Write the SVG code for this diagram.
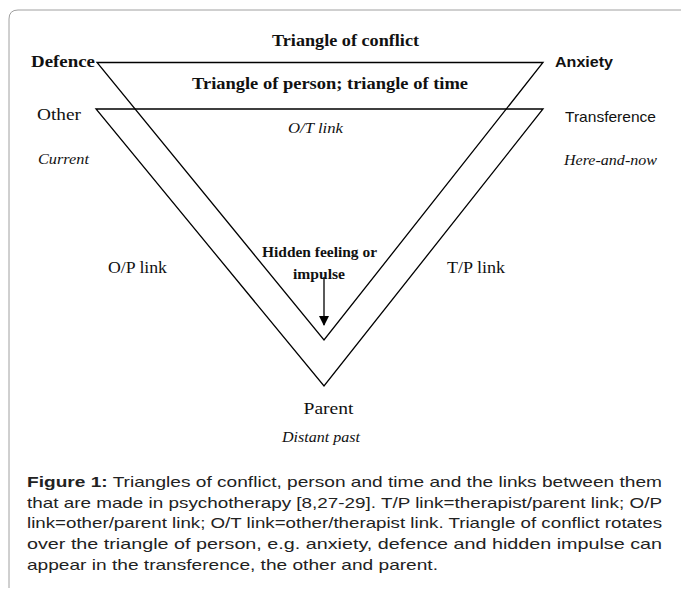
<svg xmlns="http://www.w3.org/2000/svg" width="681" height="590" viewBox="0 0 681 590">
<style>
.serif{font-family:"Liberation Serif","Times New Roman",serif;fill:#111}
.sans{font-family:"Liberation Sans",Arial,sans-serif;fill:#111}
.b{font-weight:bold}
.i{font-style:italic}
.ln{stroke:#000;stroke-width:1.3;fill:none}
.cap{font-family:"Liberation Sans",Arial,sans-serif;font-size:15px;fill:#222}
</style>
<defs>
<marker id="ah" markerWidth="10" markerHeight="10" refX="9" refY="5" orient="auto" markerUnits="userSpaceOnUse">
<path d="M0,0 L10,5 L0,10 Z" fill="#000"/>
</marker>
</defs>
<rect width="681" height="590" fill="#fff"/>
<path d="M9 588 L9 19 Q9 10 18 10 L681 10" fill="none" stroke="#a0a0a0" stroke-width="1"/>
<g id="connectors">
<polygon id="conflict-triangle" class="ln" points="97,62.5 543,62.5 324,340"/>
<polygon id="person-triangle" class="ln" points="96,109 543,109 324,386"/>
<line class="ln" x1="324" y1="277" x2="324" y2="325" marker-end="url(#ah)"/>
</g>
<g id="title-conflict"><text class="serif b" x="272" y="46" font-size="17" textLength="147" lengthAdjust="spacingAndGlyphs">Triangle of conflict</text></g>
<g id="title-person"><text class="serif b" x="192" y="89" font-size="17" textLength="276" lengthAdjust="spacingAndGlyphs">Triangle of person; triangle of time</text></g>
<g id="defence"><text class="serif b" x="31" y="67" font-size="16" textLength="64" lengthAdjust="spacingAndGlyphs">Defence</text></g>
<g id="anxiety"><text class="sans b" x="555" y="67" font-size="15" textLength="58" lengthAdjust="spacingAndGlyphs">Anxiety</text></g>
<g id="other"><text class="serif" x="37" y="120" font-size="17" textLength="44" lengthAdjust="spacingAndGlyphs">Other</text></g>
<g id="transference"><text class="sans" x="565" y="121.5" font-size="15" textLength="91" lengthAdjust="spacingAndGlyphs">Transference</text></g>
<g id="ot-link"><text class="serif i" x="288" y="133" font-size="15" textLength="55" lengthAdjust="spacingAndGlyphs">O/T link</text></g>
<g id="current"><text class="serif i" x="38" y="164" font-size="15" textLength="51" lengthAdjust="spacingAndGlyphs">Current</text></g>
<g id="here-and-now"><text class="serif i" x="564" y="165" font-size="15" textLength="93" lengthAdjust="spacingAndGlyphs">Here-and-now</text></g>
<g id="op-link"><text class="serif" x="108" y="273" font-size="16" textLength="59" lengthAdjust="spacingAndGlyphs">O/P link</text></g>
<g id="tp-link"><text class="serif" x="447" y="273" font-size="16" textLength="58" lengthAdjust="spacingAndGlyphs">T/P link</text></g>
<g id="hidden-feeling">
<text class="serif b" x="262" y="256.5" font-size="14" textLength="115" lengthAdjust="spacingAndGlyphs">Hidden feeling or</text>
<text class="serif b" x="293" y="279" font-size="14" textLength="52" lengthAdjust="spacingAndGlyphs">impulse</text>
</g>
<g id="parent"><text class="serif" x="303.5" y="413.5" font-size="17" textLength="50" lengthAdjust="spacingAndGlyphs">Parent</text></g>
<g id="distant-past"><text class="serif i" x="282" y="441.5" font-size="15" textLength="78" lengthAdjust="spacingAndGlyphs">Distant past</text></g>
<g id="caption">
<text class="cap" x="27" y="487" textLength="635" lengthAdjust="spacingAndGlyphs"><tspan font-weight="bold">Figure 1:</tspan> Triangles of conflict, person and time and the links between them</text>
<text class="cap" x="27" y="507.7" textLength="635" lengthAdjust="spacingAndGlyphs">that are made in psychotherapy [8,27-29]. T/P link=therapist/parent link; O/P</text>
<text class="cap" x="27" y="528.4" textLength="635" lengthAdjust="spacingAndGlyphs">link=other/parent link; O/T link=other/therapist link. Triangle of conflict rotates</text>
<text class="cap" x="27" y="549.1" textLength="635" lengthAdjust="spacingAndGlyphs">over the triangle of person, e.g. anxiety, defence and hidden impulse can</text>
<text class="cap" x="27" y="569.8" textLength="411" lengthAdjust="spacingAndGlyphs">appear in the transference, the other and parent.</text>
</g>
</svg>
